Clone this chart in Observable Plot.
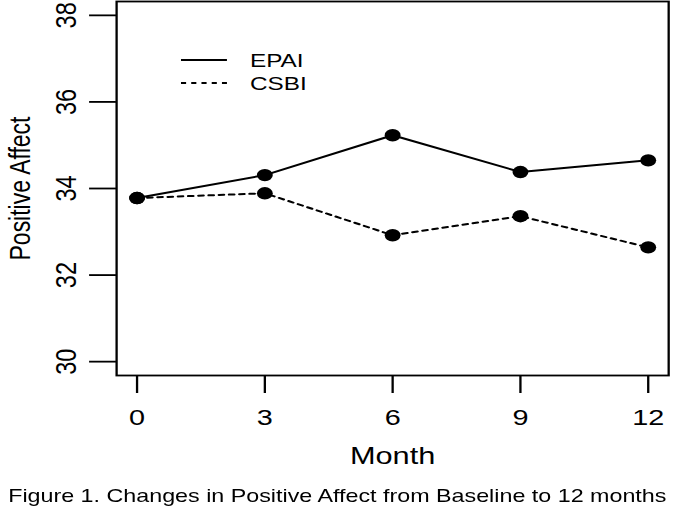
<!DOCTYPE html>
<html><head><meta charset="utf-8">
<script src="https://cdn.jsdelivr.net/npm/d3@7"></script>
<script src="https://cdn.jsdelivr.net/npm/@observablehq/plot@0.6"></script>
<style>
html,body{margin:0;padding:0;background:#fff;overflow:hidden}
#wrap{position:relative;width:527px;transform:scaleX(1.28);transform-origin:0 0;font-family:"Liberation Sans",Arial,sans-serif;color:#000}
#chart svg{display:block}
#caption{text-align:center;font-size:18.2px;line-height:30px;padding-top:3px;white-space:nowrap}
#legend{position:absolute;left:0;top:0}
</style></head><body>
<div id="wrap"><div id="chart"></div><svg id="legend" width="260" height="100"></svg><div id="caption">Figure 1. Changes in Positive Affect from Baseline to 12 months</div></div>
<script>
const months = [0, 3, 6, 9, 12];
const epai = [33.78, 34.31, 35.23, 34.38, 34.65];
const csbi = [33.78, 33.89, 32.92, 33.36, 32.64];
const seriesNames = ["EPAI", "CSBI"];
const xTicks = [0, 3, 6, 9, 12];
const yTicks = [30, 32, 34, 36, 38];
const xLabel = "Month";
const yLabel = "Positive Affect";

const rowsE = months.map((m, i) => ({month: m, value: epai[i], group: seriesNames[0]}));
const rowsC = months.map((m, i) => ({month: m, value: csbi[i], group: seriesNames[1]}));

const font = "Liberation Sans, Arial, sans-serif";
const plot = Plot.plot({
  width: 527, height: 478,
  marginLeft: 90.6, marginRight: 5.1, marginTop: 1, marginBottom: 103,
  style: {fontFamily: font, fontSize: "22.5px", color: "#000", background: "#fff"},
  x: {domain: [-0.48, 12.48]},
  y: {domain: [29.68, 38.32]},
  marks: [
    Plot.frame({stroke: "#000", strokeWidth: 1.8}),
    Plot.axisX({ticks: xTicks, tickSize: 18, tickPadding: 16, tickFormat: d => String(d), label: null, fontSize: 22.5, strokeWidth: 1.8}),
    Plot.axisY({ticks: yTicks, tickSize: 21, tickPadding: 11, tickRotate: -90, tickFormat: d => String(d), label: null, fontSize: 23.5, strokeWidth: 1.8}),
    Plot.text([xLabel], {frameAnchor: "bottom", dy: 88, fontSize: 24, text: d => d}),
    Plot.text([yLabel], {frameAnchor: "left", textAnchor: "middle", rotate: -90, dx: -75, fontSize: 23, text: d => d}),
    Plot.line(rowsE, {x: "month", y: "value", stroke: "#000", strokeWidth: 2}),
    Plot.line(rowsC, {x: "month", y: "value", stroke: "#000", strokeWidth: 2, strokeDasharray: "4,4"}),
    Plot.dot(rowsE.concat(rowsC), {x: "month", y: "value", r: 6.2, fill: "#000", stroke: "none"})
  ]
});
document.getElementById("chart").appendChild(plot);

// legend
const lg = d3.select("#legend");
const items = [{name: seriesNames[0], dash: null, y: 60}, {name: seriesNames[1], dash: "4,4", y: 83}];
items.forEach(it => {
  lg.append("line").attr("x1", 141.4).attr("x2", 177.3).attr("y1", it.y).attr("y2", it.y)
    .attr("stroke", "#000").attr("stroke-width", 1.8).attr("stroke-dasharray", it.dash);
  lg.append("text").attr("x", 195.3).attr("y", it.y).attr("dy", "0.35em")
    .attr("font-family", font).attr("font-size", 19).attr("fill", "#000").text(it.name);
});
</script>
</body></html>
